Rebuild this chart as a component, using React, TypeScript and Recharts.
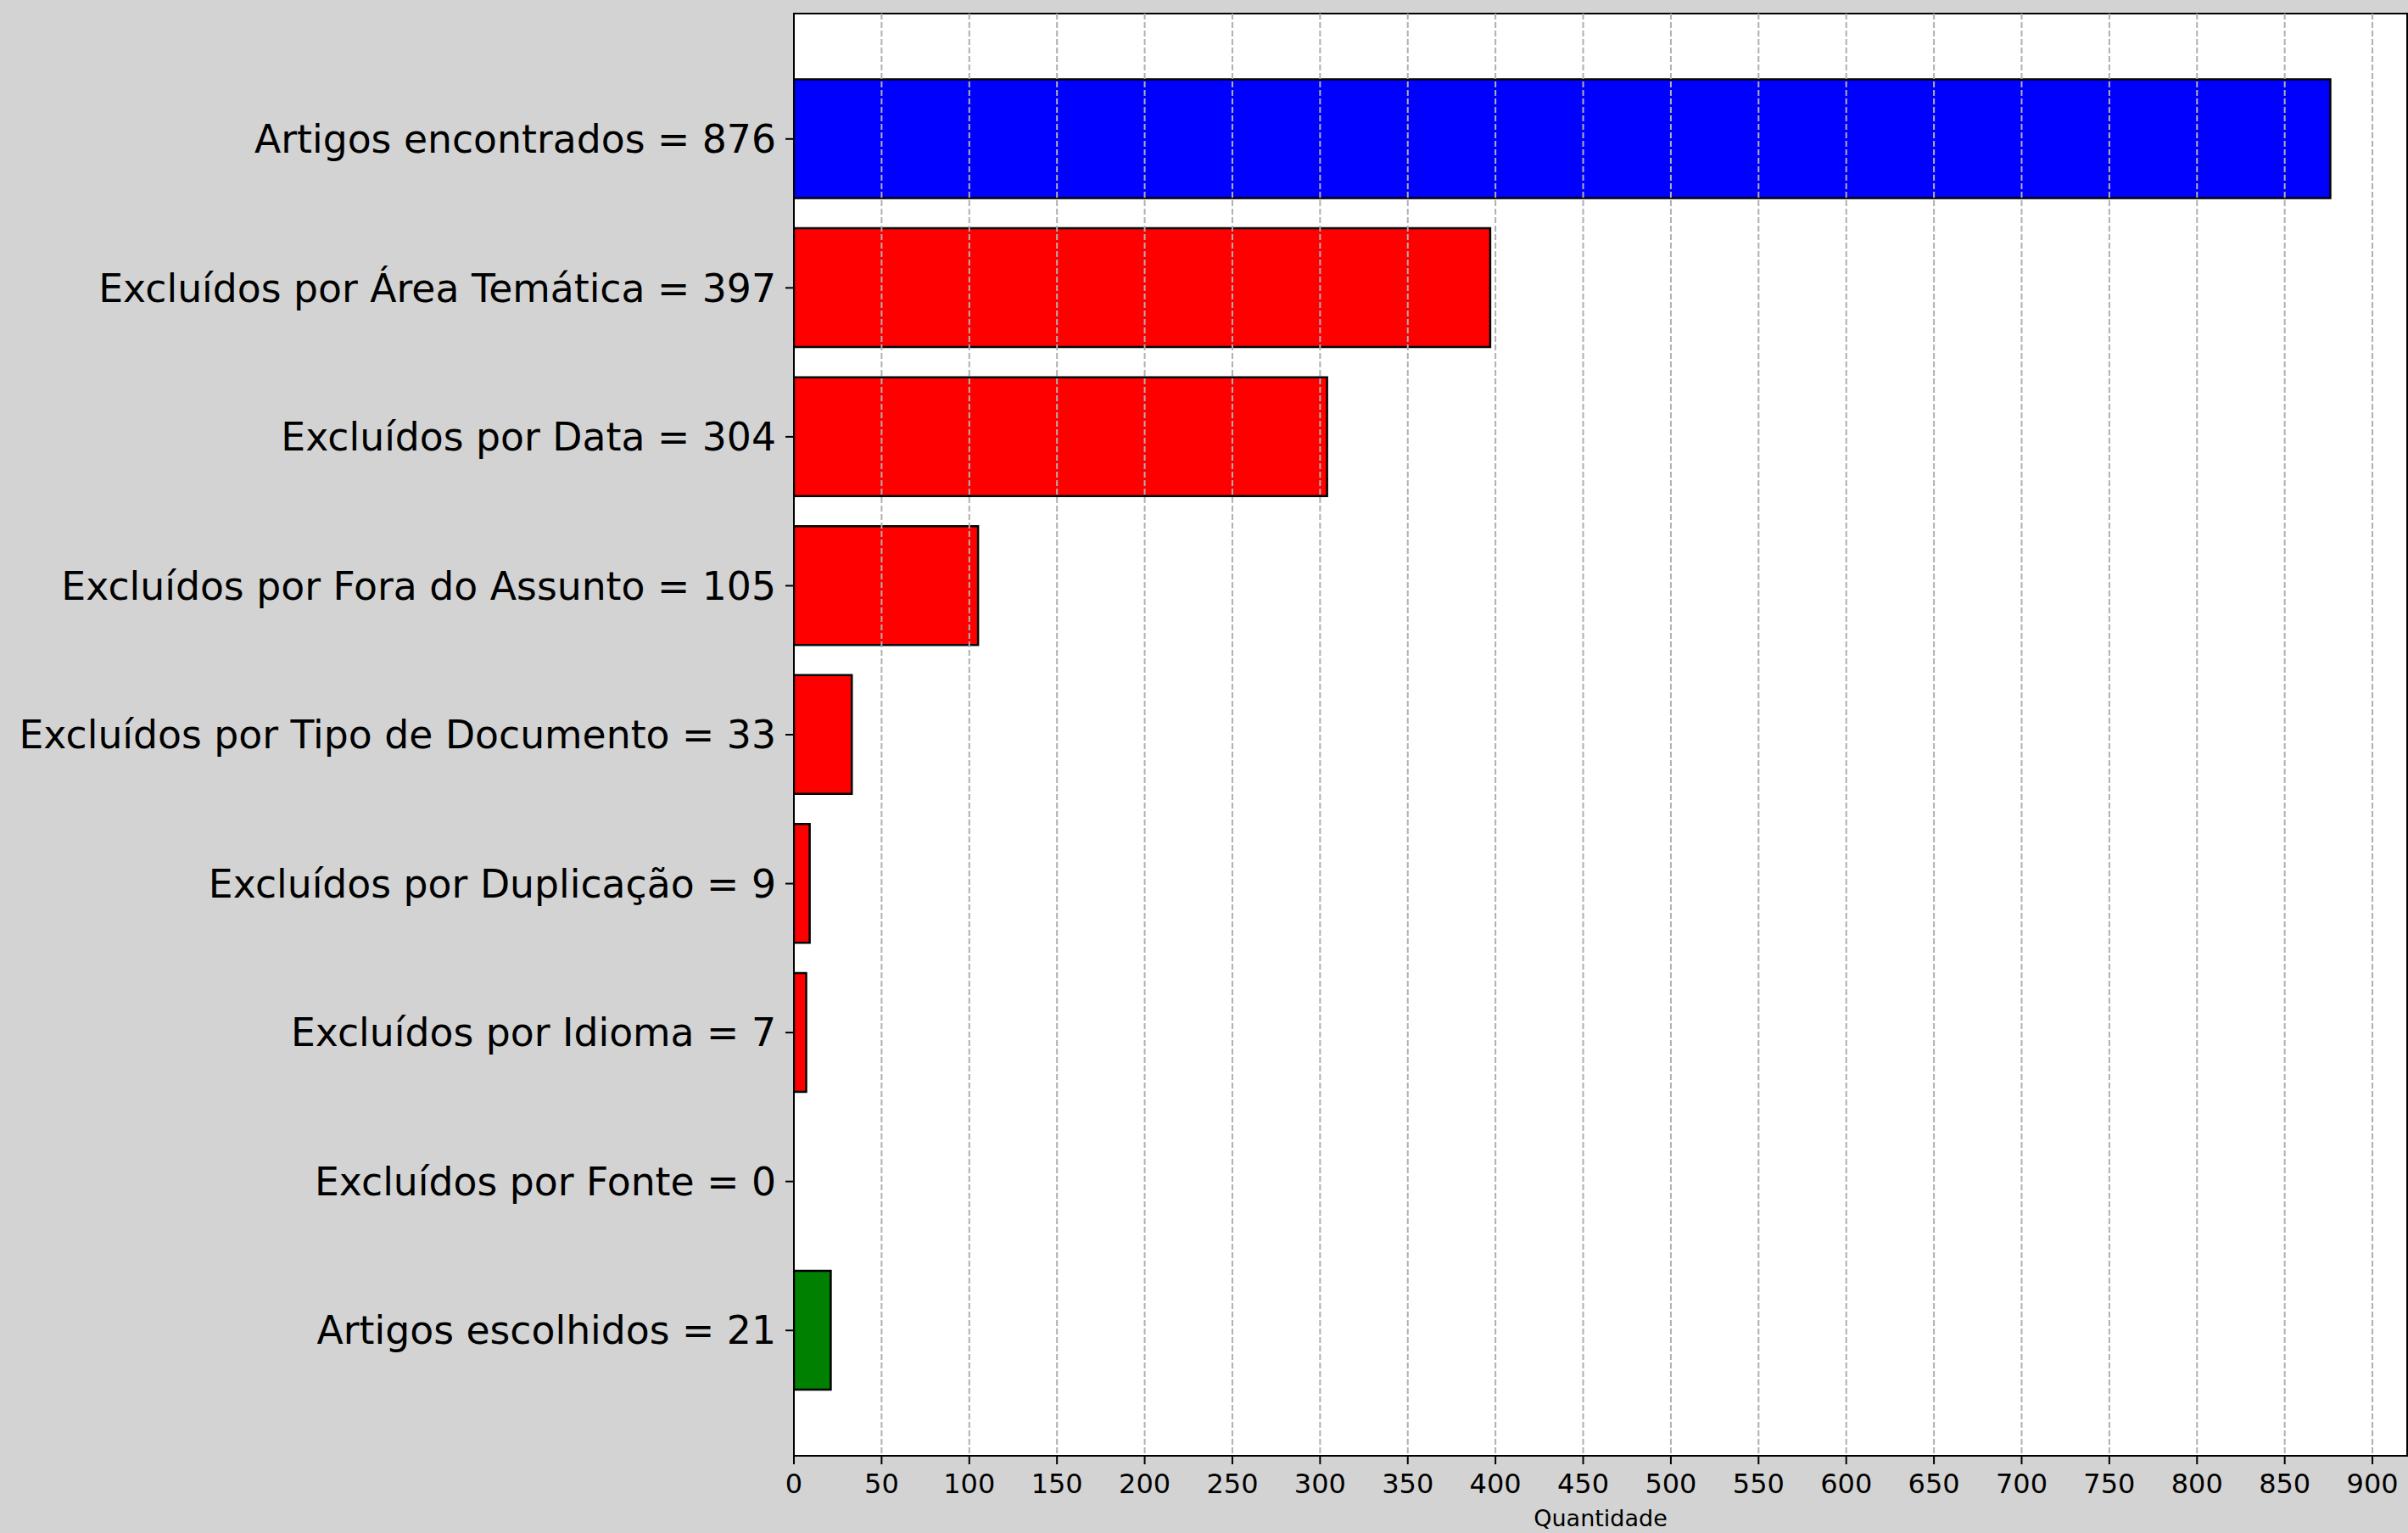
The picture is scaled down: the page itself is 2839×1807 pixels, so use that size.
import React from 'react';
import * as R from 'recharts';
import { BarChart, Bar, XAxis, YAxis, CartesianGrid, Cell } from 'recharts';

const categories = [
  'Artigos encontrados = 876',
  'Excluídos por Área Temática = 397',
  'Excluídos por Data = 304',
  'Excluídos por Fora do Assunto = 105',
  'Excluídos por Tipo de Documento = 33',
  'Excluídos por Duplicação = 9',
  'Excluídos por Idioma = 7',
  'Excluídos por Fonte = 0',
  'Artigos escolhidos = 21',
];
const values = [876, 397, 304, 105, 33, 9, 7, 0, 21];
const barColors = ['#0000ff', '#ff0000', '#ff0000', '#ff0000', '#ff0000', '#ff0000', '#ff0000', '#ff0000', '#008000'];
const xTicks = [0, 50, 100, 150, 200, 250, 300, 350, 400, 450, 500, 550, 600, 650, 700, 750, 800, 850, 900];
const gridTicks = xTicks.slice(1);
const xMax = 919.8;

const data = categories.map((name, i) => ({ name, value: values[i] }));

const FONT = '"DejaVu Sans", sans-serif';
const axisLine = { stroke: '#000', strokeWidth: 2 };

function Frame() {
  const usePlotArea = (R as any).usePlotArea;
  const area = usePlotArea ? usePlotArea() : null;
  if (!area) return null;
  return (
    <rect
      x={area.x}
      y={area.y}
      width={area.width}
      height={area.height}
      fill="none"
      stroke="#000"
      strokeWidth={2}
    />
  );
}

export default function App() {
  return (
    <div style={{ position: 'absolute', left: 0, top: 0, width: 2839, height: 1807, background: '#d3d3d3' }}>
      <BarChart
        width={2839}
        height={1807}
        data={data}
        layout="vertical"
        margin={{ top: 16, right: 1, bottom: 0, left: 0 }}
        barCategoryGap="10%"
      >
        <CartesianGrid fill="#ffffff" horizontal={false} vertical={false} />
        <XAxis
          type="number"
          domain={[0, xMax]}
          ticks={xTicks}
          allowDataOverflow
          height={91}
          tickSize={10}
          tickMargin={11}
          axisLine={axisLine}
          tick={{ fontSize: 32, fill: '#000', fontFamily: FONT }}
          tickLine={{ stroke: '#000', strokeWidth: 2 }}
          label={{ value: 'Quantidade', position: 'insideBottom', offset: 8, fontSize: 27, fill: '#000', fontFamily: FONT }}
        />
        <YAxis
          type="category"
          dataKey="name"
          width={936}
          interval={0}
          padding={{ top: 60, bottom: 60 }}
          tickSize={10}
          tickMargin={11}
          axisLine={axisLine}
          tick={{ fontSize: 45.7, fill: '#000', fontFamily: FONT }}
          tickLine={{ stroke: '#000', strokeWidth: 2 }}
        />
        <Bar dataKey="value" isAnimationActive={false} stroke="#000" strokeWidth={2.5}>
          {data.map((d, i) => (
            <Cell key={d.name} fill={barColors[i]} />
          ))}
        </Bar>
        <CartesianGrid
          horizontal={false}
          vertical
          stroke="#b0b0b0"
          strokeWidth={2}
          strokeDasharray="7 3"
          verticalValues={gridTicks}
          zIndex={500}
        />
        <Frame />
      </BarChart>
    </div>
  );
}
